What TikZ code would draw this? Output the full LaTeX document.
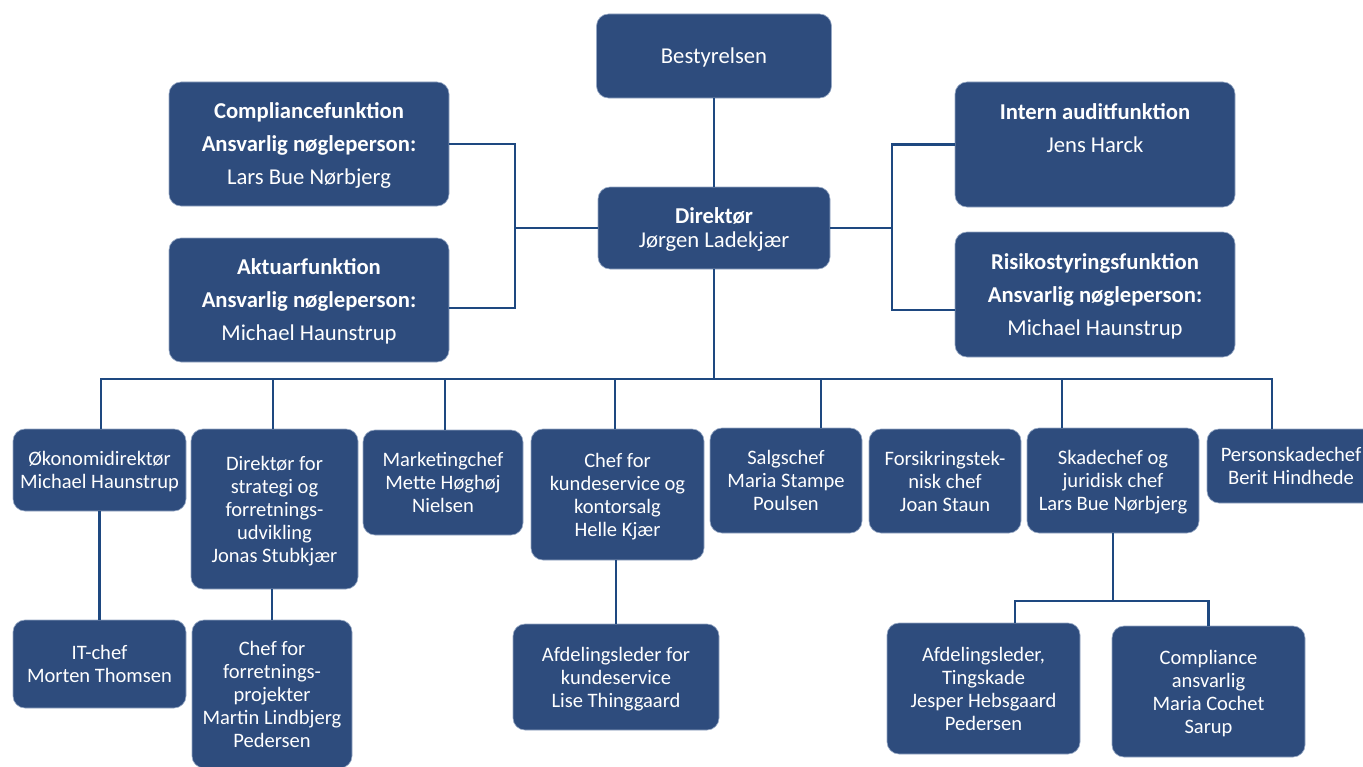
\documentclass[tikz,border=0pt]{standalone}
\usepackage{fontspec}
\setmainfont{Carlito}
\usepackage{tikz}
\usetikzlibrary{calc}
\definecolor{boxblue}{RGB}{46,76,125}
\definecolor{boxrim}{RGB}{150,168,196}
\definecolor{wireblue}{RGB}{30,72,128}
\tikzstyle{unit}=[rectangle, rounded corners=9pt, fill=boxblue, draw=boxrim, line width=0.5pt, text=white, align=center, inner sep=0pt, text depth=0pt]
\tikzstyle{topunit}=[unit, font=\fontsize{17}{24.75}\selectfont]
\tikzstyle{headunit}=[unit, font=\fontsize{17}{18}\selectfont]
\tikzstyle{lowunit}=[unit, font=\fontsize{15.4}{17.25}\selectfont]
\tikzstyle{wire}=[draw=wireblue, line width=1.6pt]
\tikzset{boxsize/.style 2 args={minimum width=#1*0.75pt, minimum height=#2*0.75pt}}

\begin{document}
\begin{tikzpicture}[x=0.75pt, y=-0.75pt]
    \useasboundingbox (0,0) rectangle (1363,767);

    % board and director
    \node [topunit, boxsize={235}{84}] (best) at (714,56) {Bestyrelsen};
    \node [headunit, boxsize={232}{82}] (dir) at (714,228) {\textbf{Direktør}\\Jørgen Ladekjær};

    % key functions
    \node [topunit, boxsize={280}{124}] (comp) at (309,144) {\textbf{Compliancefunktion}\\\textbf{Ansvarlig nøgleperson:}\\Lars Bue Nørbjerg};
    \node [topunit, boxsize={280}{124}] (akt) at (309,300) {\textbf{Aktuarfunktion}\\\textbf{Ansvarlig nøgleperson:}\\Michael Haunstrup};
    \node [topunit, boxsize={280}{125}] (audit) at (1095,144.5) {\textbf{Intern auditfunktion}\\Jens Harck\\\mbox{}};
    \node [topunit, boxsize={280}{125}] (risk) at (1095,294.5) {\textbf{Risikostyringsfunktion}\\\textbf{Ansvarlig nøgleperson:}\\Michael Haunstrup};

    % first management row
    \foreach \n/\x/\y/\w/\h/\txt in {
        oek/99.5/470/173/82/{Økonomidirektør\\Michael Haunstrup},
        strat/274.5/509/167/160/{Direktør for\\strategi og\\forretnings-\\udvikling\\Jonas Stubkjær},
        mark/443/482.5/160/105/{Marketingchef\\Mette Høghøj\\Nielsen},
        kunde/617.5/494.5/173/131/{Chef for\\kundeservice og\\kontorsalg\\Helle Kjær},
        salg/786/480.5/152/105/{Salgschef\\Maria Stampe\\Poulsen},
        fors/945/481/152/104/{Forsikringstek-\\nisk chef\\Joan Staun},
        skade/1113/480.5/172/105/{Skadechef og\\juridisk chef\\Lars Bue Nørbjerg},
        pers/1291/466/168/74/{Personskadechef\\Berit Hindhede}}
    \node [lowunit, boxsize={\w}{\h}] (\n) at (\x,\y) {\txt};

    % second management row
    \node [lowunit, boxsize={173}{88}] (it) at (99.5,664) {IT-chef\\Morten Thomsen};
    \node [lowunit, boxsize={160}{148}] (fproj) at (272,694) {Chef for\\forretnings-\\projekter\\Martin Lindbjerg\\Pedersen};
    \node [lowunit, boxsize={206}{106}] (lise) at (616,677) {Afdelingsleder for\\kundeservice\\Lise Thinggaard};
    \node [lowunit, boxsize={193}{131}] (ting) at (983.5,688.5) {Afdelingsleder,\\Tingskade\\Jesper Hebsgaard\\Pedersen};
    \node [lowunit, boxsize={193}{131}] (cans) at (1208.5,691.5) {Compliance\\ansvarlig\\Maria Cochet\\Sarup};

    % connectors at the top
    \coordinate (lj) at ($(dir.west)+(-83,0)$);
    \coordinate (rj) at ($(dir.east)+(62,0)$);
    \coordinate (bus) at ($(dir.south)+(0,110)$);
    \draw [wire] (best) -- (dir);
    \draw [wire] (dir.west) -- (lj);
    \draw [wire] (comp.east) -| (lj);
    \draw [wire] ($(akt.east)+(0,8)$) -| (lj);
    \draw [wire] (dir.east) -- (rj);
    \draw [wire] (audit.west) -| (rj);
    \draw [wire] ($(risk.west)+(0,15.5)$) -| (rj);
    \draw [wire] (dir) -- (bus);

    \foreach \n/\dx in {oek/1.5, strat/-1.5, mark/2, kunde/-2.5, salg/35, skade/-51, pers/-19}
    \draw [wire] ($(\n.north)+(\dx,0)$) |- (bus);

    % connectors at the bottom
    \coordinate (split) at ($(skade.south)+(0,68)$);
    \draw [wire] (oek) -- (it);
    \draw [wire] (fproj.north) -- (fproj.north |- strat.south);
    \draw [wire] (lise.north) -- (lise.north |- kunde.south);
    \draw [wire] (skade) -- (split);
    \draw [wire] ($(ting.north)+(31.5,0)$) |- (split) -| (cans.north);

\end{tikzpicture}
\end{document}
